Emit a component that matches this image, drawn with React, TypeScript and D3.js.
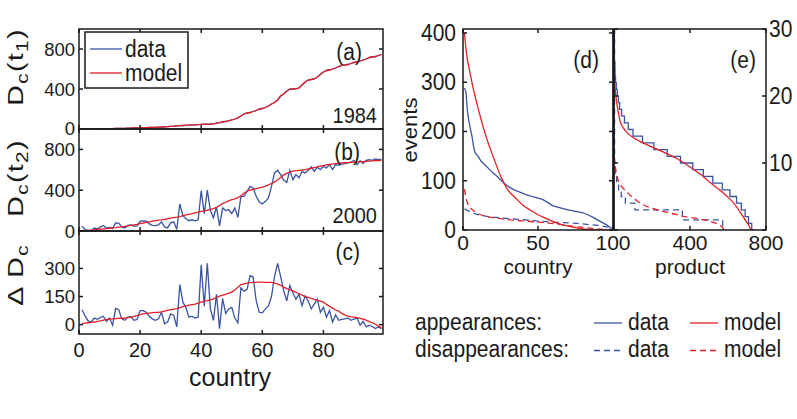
import React from "react";
import * as d3 from "d3";

const BLUE = "#3953a4";
const RED = "#e41e26";
const INK = "#1a1a1a";
const FONT = "'Liberation Sans', Arial, Helvetica, sans-serif";

// panels (a)-(c): countries 1..99
const countryIdx = d3.range(1, 100);

const dc1984 = [
  0, 0, 0, 1, 1, 2, 2, 3, 3, 4, 4, 5, 5, 6, 7, 8, 9,
  10, 11, 12, 13, 14, 15, 16, 17, 19, 20, 22, 24, 26, 28,
  31, 33, 35, 37, 39, 41, 42, 44, 46, 48, 49, 50, 52,
  58, 64, 70, 76, 82, 90,
  100, 112, 130, 150, 160,
  165, 175, 185, 200, 205,
  215, 230, 250, 265,
  290, 330, 350, 380, 398, 400,
  402, 410, 440, 470, 490,
  495, 500, 520, 545, 570,
  585, 590, 600, 610, 625, 636,
  640, 645, 655, 665, 670,
  680, 690, 700, 715, 720, 725, 735, 745,
];

const dc2000Data = [
  46, 13, 5, 3, 29, 20, 40, 52, 29, 36,
  23, 80, 78, 40, 30, 55, 60, 46, 50, 95,
  100, 96, 70, 56, 52, 60, 90, 40, 30, 80,
  90, 15, 265, 150, 120, 101, 110, 100, 110, 395,
  170, 400, 200, 130, 235, 50, 225, 200, 210, 170,
  226, 134, 340, 340, 389, 438, 422, 340, 285, 265,
  291, 324, 438, 569, 595, 553, 500, 477, 595, 504,
  553, 520, 585, 569, 592, 628, 585, 625, 602, 634,
  618, 651, 602, 651, 644, 657, 660, 667, 674, 693,
  651, 690, 660, 693, 700, 693, 706, 700, 705,
];

const dc2000Model = [
  0, 3, 6, 9, 12, 15, 18, 21, 24, 27,
  30, 33, 37, 41, 46, 51, 56, 61, 66, 72,
  78, 84, 90, 96, 102, 106, 110, 115, 120, 126,
  131, 136, 142, 150, 157, 164, 170, 177, 184, 192,
  198, 204, 209, 220, 232, 250, 268, 282, 295, 307,
  315, 328, 345, 370, 390, 400, 408, 415, 422, 430,
  440, 452, 466, 482, 500, 525, 550, 565, 578, 588,
  592, 595, 598, 602, 608, 615, 622, 628, 635, 642,
  648, 652, 656, 660, 664, 667, 669, 671, 673, 675,
  677, 679, 681, 683, 685, 687, 689, 691, 693,
];

const deltaData = [
  80, 45, 20, 14, 35, 28, 38, 45, 17, 35,
  -3, 87, 80, 31, 23, 40, 42, 23, 28, 75,
  75, 66, 45, 31, 23, 31, 66, 5, 14, 57,
  50, -12, 214, 120, 90, 40, 45, 35, 40, 319,
  98, 327, 84, 23, 162, -21, 139, 60, 84, 92,
  35, 10, 197, 179, 188, 261, 254, 127, 66, 63,
  84, 100, 150, 258, 327, 258, 180, 127, 209, 170,
  136, 162, 101, 153, 127, 84, 110, 136, 66, 92,
  40, 75, 14, 52, 23, 28, 31, 35, 23, 30,
  35, -3, 17, -12, -3, -10, -21, -12, -21,
];

const deltaModel = [
  5, 8, 10, 12, 14, 17, 20, 24, 27, 30,
  31, 32, 33, 34, 35, 37, 40, 44, 48, 53,
  57, 60, 62, 64, 65, 66, 68, 72, 76, 80,
  83, 86, 90, 96, 100, 104, 107, 110, 115, 120,
  125, 128, 132, 138, 145, 152, 158, 162, 168, 174,
  185, 200, 214, 218, 222, 224, 226, 226, 227, 227,
  226, 226, 226, 222, 218, 210, 200, 192, 186, 180,
  172, 165, 158, 150, 145, 140, 135, 130, 126, 120,
  108, 98, 88, 78, 72, 60, 52, 46, 42, 40,
  37, 33, 30, 24, 16, 10, 2, -8, -17,
];

// panel (d): events vs country rank
const dApDataRank = [1, 2, 3, 4, 5, 6, 7, 8, 10, 12, 15, 18, 20, 23, 27, 30, 33, 37, 42, 47, 53, 57, 60, 65, 70, 75, 80, 84, 87, 90, 93, 96, 98, 100];
const dApData = [288, 280, 240, 220, 205, 190, 170, 157, 150, 140, 131, 122, 116, 108, 96, 89, 83, 78, 72, 67, 62, 55, 49, 45, 41, 38, 35, 30, 25, 20, 15, 10, 5, 2];
const dApModelRank = [1, 2, 3, 5, 7, 10, 13, 16, 20, 25, 30, 35, 40, 45, 50, 55, 60, 65, 70, 75, 80, 85, 90, 100];
const dApModel = [400, 367, 345, 314, 285, 248, 214, 184, 150, 110, 81, 65, 50, 40, 31, 24, 17, 11.5, 8, 5, 2, 0.5, 0, 0];
const dDisDataRank = [1, 3, 5, 7, 10, 15, 20, 31, 40, 50, 60, 70, 76, 85, 90, 95, 98, 100];
const dDisData = [43, 40, 36, 34, 31, 28, 26, 23, 21, 18, 16, 14.5, 13.5, 10.5, 9.5, 7, 5, 3];
const dDisModelRank = [1, 2, 3, 5, 8, 11, 15, 20, 30, 40, 50, 60, 65, 70, 75, 82, 88, 93, 100];
const dDisModel = [83, 65, 55, 45, 37, 32, 28, 25, 21, 18.5, 16, 13, 11.5, 9, 7, 4.7, 2.5, 1, 0];

// panel (e): events vs product rank
const eApDataRank = [0, 2, 5, 8, 12, 17, 23, 30, 40, 55, 75, 100, 150, 210, 280, 350, 415, 470, 520, 570, 610, 645, 670, 690, 708, 725, 740];
const eApData = [40, 25, 23, 22, 21, 20, 19, 18, 17, 16, 15, 14, 13, 12, 11, 10, 9, 8, 7, 6, 5, 4, 3, 2, 1, 0, 0];
const eApModelRank = [1, 5, 10, 17, 25, 35, 50, 70, 100, 160, 247, 335, 421, 470, 509, 555, 596, 625, 649, 670, 684, 700, 711, 720];
const eApModel = [23.5, 21.5, 20, 18.5, 17.2, 16, 15.2, 14.5, 13.8, 12.9, 11.8, 10.6, 9, 8, 7, 6, 5, 4.2, 3.3, 2.4, 1.8, 1.1, 0.6, 0];
const eDisDataRank = [0, 3, 7, 14, 24, 38, 60, 110, 360, 572, 580];
const eDisData = [30, 10, 8, 7, 6, 5, 4, 3, 1.5, 0, 0];
const eDisModelRank = [1, 5, 12, 28, 50, 70, 100, 124, 160, 195, 240, 283, 330, 371, 420, 458, 500, 528, 550, 563, 580];
const eDisModel = [11, 10, 8.5, 7, 6.2, 5.6, 4.8, 4.3, 3.7, 3.3, 2.9, 2.6, 2.3, 2, 1.8, 1.6, 1.35, 1.1, 0.8, 0.6, 0];

const leftXTicks = [0, 20, 40, 60, 80];
const abYTicks = [0, 400, 800];
const cYTicks = [0, 150, 300];
const dXTicks = [0, 50, 100];
const dYTicks = [0, 100, 200, 300, 400];
const eXTicks = [0, 400, 800];
const eXLabels = [400, 800];
const eYTicks = [0, 10, 20, 30];
const eYLabels = [10, 20, 30];

const xL = d3.scaleLinear().domain([0, 99.5]).range([79, 383]);
const yA = d3.scaleLinear().domain([0, 1000]).range([129, 29]);
const yB = d3.scaleLinear().domain([0, 1000]).range([231, 129]);
const yC = d3.scaleLinear().domain([-50, 500]).range([334, 231]);
const xD = d3.scaleLinear().domain([0, 100]).range([463, 613]);
const yD = d3.scaleLinear().domain([0, 408]).range([230, 29]);
const xE = d3.scaleLinear().domain([0, 800]).range([614, 766]);
const yE = d3.scaleLinear().domain([0, 30]).range([230, 29]);

type S = d3.ScaleLinear<number, number>;

const mkPath = (xs: number[], ys: number[], x: S, y: S, curve: d3.CurveFactory = d3.curveLinear) =>
  d3.line<number>().x((_, i) => x(xs[i])).y((d) => y(d)).curve(curve)(ys) ?? "";

const Frame = ({ x, y, xt, yt }: { x: S; y: S; xt: number[]; yt: number[] }) => {
  const [x0, x1] = x.range();
  const [y0, y1] = y.range();
  const L = 4;
  return (
    <g stroke={INK} strokeWidth={1.5} fill="none">
      {xt.map((v) => (
        <g key={"x" + v}>
          <line x1={x(v)} x2={x(v)} y1={y0} y2={y0 - L} />
          <line x1={x(v)} x2={x(v)} y1={y1} y2={y1 + L} />
        </g>
      ))}
      {yt.map((v) => (
        <g key={"y" + v}>
          <line x1={x0} x2={x0 + L} y1={y(v)} y2={y(v)} />
          <line x1={x1} x2={x1 - L} y1={y(v)} y2={y(v)} />
        </g>
      ))}
      <rect x={x0} y={y1} width={x1 - x0} height={y0 - y1} />
    </g>
  );
};

const Txt = ({
  x, y, size, anchor = "start", base = "auto", rot = false, sy = 1.1, ls = 0, children,
}: {
  x: number; y: number; size: number; anchor?: string; base?: string; rot?: boolean; sy?: number; ls?: number; children: React.ReactNode;
}) => (
  <text
    transform={`translate(${x},${y}) scale(1,${sy})${rot ? " rotate(-90)" : ""}`}
    fontSize={size}
    textAnchor={anchor}
    dominantBaseline={base}
    fontFamily={FONT}
    letterSpacing={ls}
    fill={INK}
  >
    {children}
  </text>
);

const clipRect = (id: string, x: S, y: S) => {
  const [x0, x1] = x.range();
  const [y0, y1] = y.range();
  return (
    <clipPath id={id} key={id}>
      <rect x={x0} y={y1} width={x1 - x0} height={y0 - y1} />
    </clipPath>
  );
};

export default function App() {
  const lw = 1.3;
  return (
    <svg width={797} height={419} style={{ display: "block", background: "#fff" }}>
      <style>{`body{margin:0}`}</style>
      <defs>
        {clipRect("cA", xL, yA)}
        {clipRect("cB", xL, yB)}
        {clipRect("cC", xL, yC)}
        {clipRect("cD", xD, yD)}
        {clipRect("cE", xE, yE)}
      </defs>

      {/* (a) */}
      <g clipPath="url(#cA)" fill="none">
        <path d={mkPath(countryIdx, dc1984, xL, yA)} stroke={BLUE} strokeWidth={lw} />
        <path d={mkPath(countryIdx, dc1984, xL, yA)} stroke={RED} strokeWidth={lw} />
      </g>
      <Frame x={xL} y={yA} xt={leftXTicks} yt={abYTicks} />

      {/* (b) */}
      <g clipPath="url(#cB)" fill="none">
        <path d={mkPath(countryIdx, dc2000Data, xL, yB)} stroke={BLUE} strokeWidth={lw} />
        <path d={mkPath(countryIdx, dc2000Model, xL, yB)} stroke={RED} strokeWidth={lw} />
      </g>
      <Frame x={xL} y={yB} xt={leftXTicks} yt={abYTicks} />

      {/* (c) */}
      <g clipPath="url(#cC)" fill="none">
        <path d={mkPath(countryIdx, deltaData, xL, yC)} stroke={BLUE} strokeWidth={lw} />
        <path d={mkPath(countryIdx, deltaModel, xL, yC)} stroke={RED} strokeWidth={lw} />
      </g>
      <Frame x={xL} y={yC} xt={leftXTicks} yt={cYTicks} />

      {/* left tick labels */}
      {abYTicks.map((v) => (
        <Txt key={"ya" + v} x={75} y={yA(v) - (v === 0 ? 1 : 0)} size={18.5} anchor="end" base="central" sy={1}>{v}</Txt>
      ))}
      {abYTicks.map((v) => (
        <Txt key={"yb" + v} x={75} y={yB(v)} size={18.5} anchor="end" base="central" sy={1}>{v}</Txt>
      ))}
      {cYTicks.map((v) => (
        <Txt key={"yc" + v} x={75} y={yC(v)} size={18.5} anchor="end" base="central" sy={1}>{v}</Txt>
      ))}
      {leftXTicks.map((v) => (
        <Txt key={"xc" + v} x={xL(v)} y={357} size={20} anchor="middle" sy={1}>{v}</Txt>
      ))}
      <Txt x={230} y={386} size={25} anchor="middle" sy={1}>country</Txt>

      {/* left axis titles */}
      <Txt x={23} y={67} size={22} anchor="middle" rot sy={1.3} ls={1}>
        D<tspan fontSize={16} dy={5}>c</tspan>
        <tspan dy={-5}>(t</tspan>
        <tspan fontSize={16} dy={5}>1</tspan>
        <tspan dy={-5}>)</tspan>
      </Txt>
      <Txt x={23} y={178} size={22} anchor="middle" rot sy={1.3} ls={1}>
        D<tspan fontSize={16} dy={5}>c</tspan>
        <tspan dy={-5}>(t</tspan>
        <tspan fontSize={16} dy={5}>2</tspan>
        <tspan dy={-5}>)</tspan>
      </Txt>
      <Txt x={23} y={275} size={22} anchor="middle" rot sy={1.3} ls={1}>
        Δ D<tspan fontSize={16} dy={5}>c</tspan>
      </Txt>

      {/* legend (a) */}
      <rect x={85} y={32} width={103} height={56} fill="#fff" stroke={INK} strokeWidth={1.5} />
      <line x1={90} x2={122} y1={49} y2={49} stroke={BLUE} strokeWidth={lw} />
      <line x1={90} x2={122} y1={73} y2={73} stroke={RED} strokeWidth={lw} />
      <Txt x={125} y={49} size={21} base="central">data</Txt>
      <Txt x={125} y={73} size={21} base="central">model</Txt>

      {/* panel tags */}
      <Txt x={362} y={52} size={21} anchor="end" base="central">(a)</Txt>
      <Txt x={377} y={123} size={20} anchor="end">1984</Txt>
      <Txt x={360} y={152} size={21} anchor="end" base="central">(b)</Txt>
      <Txt x={377} y={223} size={20} anchor="end">2000</Txt>
      <Txt x={360} y={252} size={21} anchor="end" base="central">(c)</Txt>

      {/* (d) */}
      <g clipPath="url(#cD)" fill="none">
        <path d={mkPath(dApDataRank, dApData, xD, yD)} stroke={BLUE} strokeWidth={lw} />
        <path d={mkPath(dDisDataRank, dDisData, xD, yD)} stroke={BLUE} strokeWidth={lw} strokeDasharray="6,4" />
        <path d={mkPath(dApModelRank, dApModel, xD, yD, d3.curveMonotoneX)} stroke={RED} strokeWidth={lw} />
        <path d={mkPath(dDisModelRank, dDisModel, xD, yD, d3.curveMonotoneX)} stroke={RED} strokeWidth={lw} strokeDasharray="6,4" />
      </g>
      <Frame x={xD} y={yD} xt={dXTicks} yt={dYTicks} />

      {/* (e) */}
      <g clipPath="url(#cE)" fill="none">
        <path d={mkPath(eApDataRank, eApData, xE, yE, d3.curveStepAfter)} stroke={BLUE} strokeWidth={lw} />
        <path d={mkPath(eDisDataRank, eDisData, xE, yE, d3.curveStepAfter)} stroke={BLUE} strokeWidth={lw} strokeDasharray="6,4" />
        <path d={mkPath(eApModelRank, eApModel, xE, yE, d3.curveMonotoneX)} stroke={RED} strokeWidth={lw} />
        <path d={mkPath(eDisModelRank, eDisModel, xE, yE, d3.curveMonotoneX)} stroke={RED} strokeWidth={lw} strokeDasharray="6,4" />
      </g>
      <Frame x={xE} y={yE} xt={eXTicks} yt={eYTicks} />
      <line x1={613.5} x2={613.5} y1={29} y2={230} stroke={INK} strokeWidth={2} />

      {dYTicks.map((v) => (
        <Txt key={"yd" + v} x={456} y={yD(v)} size={21} anchor="end" base="central">{v}</Txt>
      ))}
      {dXTicks.map((v) => (
        <Txt key={"xd" + v} x={xD(v)} y={250} size={21} anchor="middle" sy={1}>{v}</Txt>
      ))}
      {eXLabels.map((v) => (
        <Txt key={"xe" + v} x={xE(v)} y={250} size={21} anchor="middle" sy={1}>{v}</Txt>
      ))}
      {eYLabels.map((v) => (
        <Txt key={"ye" + v} x={769} y={yE(v)} size={21} base="central">{v}</Txt>
      ))}
      <Txt x={417} y={130} size={21} anchor="middle" rot sy={1.05}>events</Txt>
      <Txt x={538} y={274} size={21} anchor="middle" sy={1}>country</Txt>
      <Txt x={690} y={274} size={21} anchor="middle" sy={1}>product</Txt>
      <Txt x={599} y={60} size={21} anchor="end" base="central">(d)</Txt>
      <Txt x={756} y={60} size={21} anchor="end" base="central">(e)</Txt>

      {/* bottom legend */}
      <Txt x={415} y={330} size={21}>appearances:</Txt>
      <Txt x={415} y={357} size={21}>disappearances:</Txt>
      <line x1={594} x2={622} y1={323} y2={323} stroke={BLUE} strokeWidth={lw} />
      <line x1={690} x2={718} y1={323} y2={323} stroke={RED} strokeWidth={lw} />
      <line x1={594} x2={622} y1={350.5} y2={350.5} stroke={BLUE} strokeWidth={lw} strokeDasharray="6,4" />
      <line x1={690} x2={718} y1={350.5} y2={350.5} stroke={RED} strokeWidth={lw} strokeDasharray="6,4" />
      <Txt x={628} y={330} size={21}>data</Txt>
      <Txt x={724} y={330} size={21}>model</Txt>
      <Txt x={628} y={357} size={21}>data</Txt>
      <Txt x={724} y={357} size={21}>model</Txt>
    </svg>
  );
}
